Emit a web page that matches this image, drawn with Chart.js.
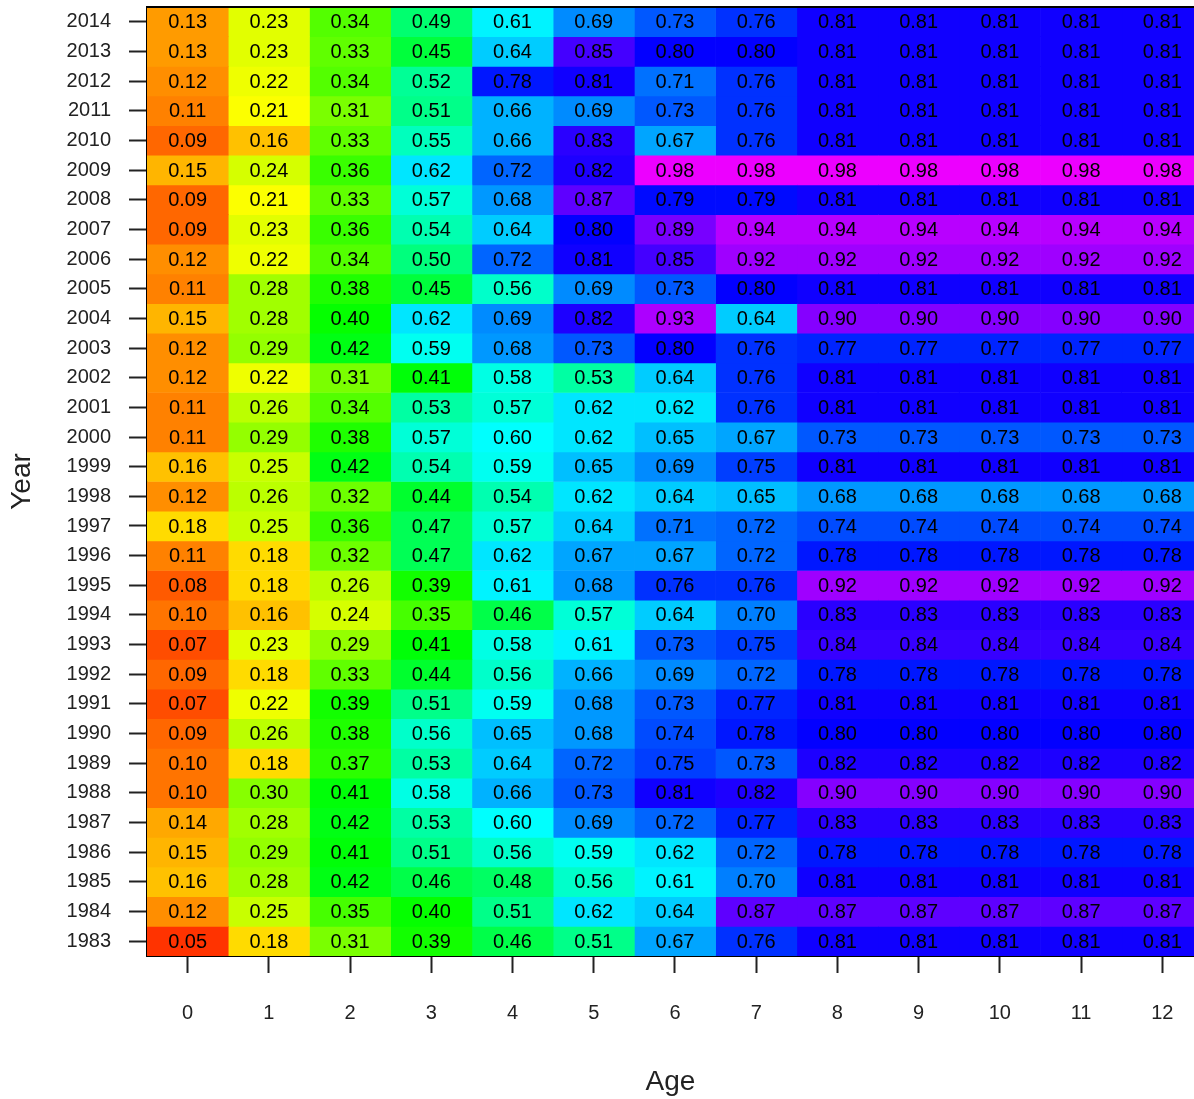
<!DOCTYPE html>
<html>
<head>
<meta charset="utf-8">
<script src="https://cdn.jsdelivr.net/npm/chart.js@4/dist/chart.umd.min.js"></script>
<style>
  html, body { margin: 0; padding: 0; background: #fff; }
  canvas { display: block; }
</style>
</head>
<body>
<canvas id="heat" width="1194" height="1099"></canvas>
<script>
// Survey years (bottom row first) and ages (columns)
const years = [1983, 1984, 1985, 1986, 1987, 1988, 1989, 1990, 1991, 1992, 1993, 1994, 1995, 1996, 1997, 1998,
               1999, 2000, 2001, 2002, 2003, 2004, 2005, 2006, 2007, 2008, 2009, 2010, 2011, 2012, 2013, 2014];
const ages = [0, 1, 2, 3, 4, 5, 6, 7, 8, 9, 10, 11, 12];

// Proportion by age, one value per year (1983 .. 2014)
const age0  = [0.05, 0.12, 0.16, 0.15, 0.14, 0.10, 0.10, 0.09, 0.07, 0.09, 0.07, 0.10, 0.08, 0.11, 0.18, 0.12,
               0.16, 0.11, 0.11, 0.12, 0.12, 0.15, 0.11, 0.12, 0.09, 0.09, 0.15, 0.09, 0.11, 0.12, 0.13, 0.13];
const age1  = [0.18, 0.25, 0.28, 0.29, 0.28, 0.30, 0.18, 0.26, 0.22, 0.18, 0.23, 0.16, 0.18, 0.18, 0.25, 0.26,
               0.25, 0.29, 0.26, 0.22, 0.29, 0.28, 0.28, 0.22, 0.23, 0.21, 0.24, 0.16, 0.21, 0.22, 0.23, 0.23];
const age2  = [0.31, 0.35, 0.42, 0.41, 0.42, 0.41, 0.37, 0.38, 0.39, 0.33, 0.29, 0.24, 0.26, 0.32, 0.36, 0.32,
               0.42, 0.38, 0.34, 0.31, 0.42, 0.40, 0.38, 0.34, 0.36, 0.33, 0.36, 0.33, 0.31, 0.34, 0.33, 0.34];
const age3  = [0.39, 0.40, 0.46, 0.51, 0.53, 0.58, 0.53, 0.56, 0.51, 0.44, 0.41, 0.35, 0.39, 0.47, 0.47, 0.44,
               0.54, 0.57, 0.53, 0.41, 0.59, 0.62, 0.45, 0.50, 0.54, 0.57, 0.62, 0.55, 0.51, 0.52, 0.45, 0.49];
const age4  = [0.46, 0.51, 0.48, 0.56, 0.60, 0.66, 0.64, 0.65, 0.59, 0.56, 0.58, 0.46, 0.61, 0.62, 0.57, 0.54,
               0.59, 0.60, 0.57, 0.58, 0.68, 0.69, 0.56, 0.72, 0.64, 0.68, 0.72, 0.66, 0.66, 0.78, 0.64, 0.61];
const age5  = [0.51, 0.62, 0.56, 0.59, 0.69, 0.73, 0.72, 0.68, 0.68, 0.66, 0.61, 0.57, 0.68, 0.67, 0.64, 0.62,
               0.65, 0.62, 0.62, 0.53, 0.73, 0.82, 0.69, 0.81, 0.80, 0.87, 0.82, 0.83, 0.69, 0.81, 0.85, 0.69];
const age6  = [0.67, 0.64, 0.61, 0.62, 0.72, 0.81, 0.75, 0.74, 0.73, 0.69, 0.73, 0.64, 0.76, 0.67, 0.71, 0.64,
               0.69, 0.65, 0.62, 0.64, 0.80, 0.93, 0.73, 0.85, 0.89, 0.79, 0.98, 0.67, 0.73, 0.71, 0.80, 0.73];
const age7  = [0.76, 0.87, 0.70, 0.72, 0.77, 0.82, 0.73, 0.78, 0.77, 0.72, 0.75, 0.70, 0.76, 0.72, 0.72, 0.65,
               0.75, 0.67, 0.76, 0.76, 0.76, 0.64, 0.80, 0.92, 0.94, 0.79, 0.98, 0.76, 0.76, 0.76, 0.80, 0.76];
const age8  = [0.81, 0.87, 0.81, 0.78, 0.83, 0.90, 0.82, 0.80, 0.81, 0.78, 0.84, 0.83, 0.92, 0.78, 0.74, 0.68,
               0.81, 0.73, 0.81, 0.81, 0.77, 0.90, 0.81, 0.92, 0.94, 0.81, 0.98, 0.81, 0.81, 0.81, 0.81, 0.81];
const age9  = [0.81, 0.87, 0.81, 0.78, 0.83, 0.90, 0.82, 0.80, 0.81, 0.78, 0.84, 0.83, 0.92, 0.78, 0.74, 0.68,
               0.81, 0.73, 0.81, 0.81, 0.77, 0.90, 0.81, 0.92, 0.94, 0.81, 0.98, 0.81, 0.81, 0.81, 0.81, 0.81];
const age10 = [0.81, 0.87, 0.81, 0.78, 0.83, 0.90, 0.82, 0.80, 0.81, 0.78, 0.84, 0.83, 0.92, 0.78, 0.74, 0.68,
               0.81, 0.73, 0.81, 0.81, 0.77, 0.90, 0.81, 0.92, 0.94, 0.81, 0.98, 0.81, 0.81, 0.81, 0.81, 0.81];
const age11 = [0.81, 0.87, 0.81, 0.78, 0.83, 0.90, 0.82, 0.80, 0.81, 0.78, 0.84, 0.83, 0.92, 0.78, 0.74, 0.68,
               0.81, 0.73, 0.81, 0.81, 0.77, 0.90, 0.81, 0.92, 0.94, 0.81, 0.98, 0.81, 0.81, 0.81, 0.81, 0.81];
const age12 = [0.81, 0.87, 0.81, 0.78, 0.83, 0.90, 0.82, 0.80, 0.81, 0.78, 0.84, 0.83, 0.92, 0.78, 0.74, 0.68,
               0.81, 0.73, 0.81, 0.81, 0.77, 0.90, 0.81, 0.92, 0.94, 0.81, 0.98, 0.81, 0.81, 0.81, 0.81, 0.81];

const ageValues = [age0, age1, age2, age3, age4, age5, age6, age7, age8, age9, age10, age11, age12];

const FONT = '"Liberation Sans", Arial, Helvetica, sans-serif';

// Rainbow scale: low values red/orange, high values blue/magenta
function cellColor(v) {
  const hue = 12 + (v - 0.05) * 305;
  return 'hsl(' + hue.toFixed(1) + ', 100%, 50%)';
}

// One floating-bar dataset per age column; every bar spans one age unit
const datasets = ages.map((a, i) => ({
  label: 'Age ' + a,
  data: ageValues[i].map(() => [a - 0.5, a + 0.5]),
  backgroundColor: ageValues[i].map(cellColor),
  borderWidth: 0,
  grouped: false,
  barPercentage: 1,
  categoryPercentage: 1
}));

// Writes the value in each cell and closes the frame along the top
const cellLabels = {
  id: 'cellLabels',
  afterDatasetsDraw(chart) {
    const { ctx, chartArea, scales: { x, y } } = chart;
    ctx.save();
    ctx.beginPath();
    ctx.rect(chartArea.left, chartArea.top, chartArea.right - chartArea.left, chartArea.bottom - chartArea.top);
    ctx.clip();
    ctx.font = '20px ' + FONT;
    ctx.fillStyle = '#000';
    ctx.textAlign = 'center';
    ctx.textBaseline = 'middle';
    ageValues.forEach((col, i) => {
      col.forEach((v, j) => {
        ctx.fillText(v.toFixed(2), x.getPixelForValue(ages[i]), y.getPixelForValue(j) + 1);
      });
    });
    ctx.restore();

    ctx.save();
    ctx.strokeStyle = '#000';
    ctx.lineWidth = 2;
    ctx.beginPath();
    ctx.moveTo(chartArea.left - 1, chartArea.top);
    ctx.lineTo(chartArea.right, chartArea.top);
    ctx.stroke();
    ctx.restore();
  }
};

// Fixed axis footprint, without the extra room Chart.js reserves for edge labels
function fixAxis(size) {
  return (scale) => {
    if (scale.isHorizontal()) scale.height = size; else scale.width = size;
    scale.paddingTop = 0;
    scale.paddingBottom = 0;
    scale.paddingLeft = 0;
    scale.paddingRight = 0;
  };
}

new Chart(document.getElementById('heat'), {
  type: 'bar',
  data: {
    labels: years.map(String),
    datasets: datasets
  },
  options: {
    indexAxis: 'y',
    responsive: false,
    animation: false,
    layout: { padding: { top: 7, right: 0, bottom: 0, left: 0 } },
    plugins: {
      legend: { display: false },
      tooltip: { enabled: false }
    },
    scales: {
      x: {
        type: 'linear',
        min: -0.5,
        max: 12.39,
        afterBuildTicks: (scale) => { scale.ticks = ages.map(a => ({ value: a })); },
        afterFit: fixAxis(143),
        grid: { drawOnChartArea: false, tickLength: 17, tickWidth: 2, tickColor: '#222' },
        border: { display: true, color: '#000', width: 2 },
        ticks: {
          autoSkip: false,
          maxRotation: 0,
          padding: 28,
          color: '#222',
          font: { family: FONT, size: 20 }
        },
        title: {
          display: true,
          text: 'Age',
          color: '#222',
          font: { family: FONT, size: 28 },
          padding: { top: 0, bottom: 0 }
        }
      },
      y: {
        type: 'category',
        reverse: true,
        offset: true,
        afterFit: fixAxis(147),
        grid: { drawOnChartArea: false, offset: false, tickLength: 18, tickWidth: 2, tickColor: '#222' },
        border: { display: true, color: '#000', width: 2 },
        ticks: {
          autoSkip: false,
          padding: 18,
          color: '#222',
          font: { family: FONT, size: 20 }
        },
        title: {
          display: true,
          text: 'Year',
          color: '#222',
          font: { family: FONT, size: 28 },
          padding: { top: 5, bottom: 0 }
        }
      }
    }
  },
  plugins: [cellLabels]
});
</script>
</body>
</html>
